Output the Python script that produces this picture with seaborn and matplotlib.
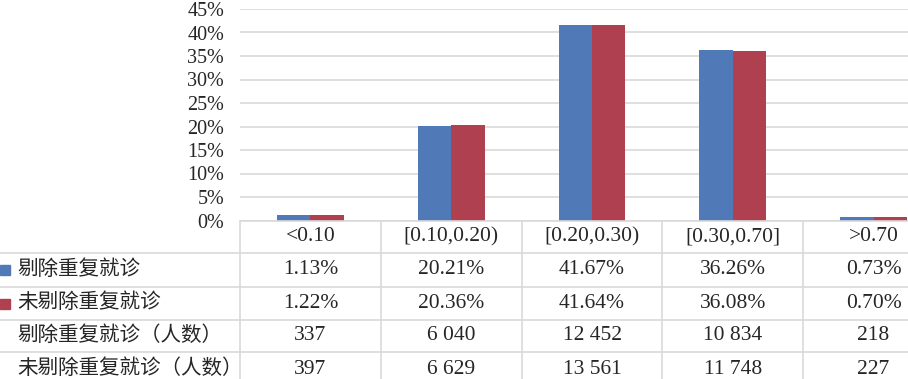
import matplotlib
matplotlib.use("Agg")
import matplotlib.pyplot as plt
import matplotlib.transforms as mtrans
import seaborn as sns
import pandas as pd

categories = ["<0.10", "[0.10,0.20)", "[0.20,0.30)", "[0.30,0.70]", ">0.70"]
series_names = ["剔除重复就诊", "未剔除重复就诊"]
pct_removed = [1.13, 20.21, 41.67, 36.26, 0.73]
pct_kept = [1.22, 20.36, 41.64, 36.08, 0.70]
count_label_removed = "剔除重复就诊（人数）"
count_label_kept = "未剔除重复就诊（人数）"
count_removed = ["337", "6 040", "12 452", "10 834", "218"]
count_kept = ["397", "6 629", "13 561", "11 748", "227"]
yticks = [0, 5, 10, 15, 20, 25, 30, 35, 40, 45]

sns.set_style("white")
plt.rcParams["font.family"] = ["Liberation Serif", "Noto Sans CJK SC", "DejaVu Sans"]

BLUE = "#4F79B7"
RED = "#AF404F"
GRID = "#D9D9D9"
W, H = 908, 379

df = pd.DataFrame({
    "cat": categories * 2,
    "series": [series_names[0]] * 5 + [series_names[1]] * 5,
    "val": pct_removed + pct_kept,
})

fig = plt.figure(figsize=(W / 100, H / 100), dpi=100)
ax_l, ax_r = 240, 944
ax_top, ax_bot = 9, 220.5
ax = fig.add_axes([ax_l / W, 1 - ax_bot / H, (ax_r - ax_l) / W, (ax_bot - ax_top) / H])

sns.barplot(data=df, x="cat", y="val", hue="series", order=categories,
            hue_order=series_names, palette=[BLUE, RED], width=0.475, gap=0,
            saturation=1, ax=ax, legend=False, linewidth=0)

ax.set_xlim(-0.5, 4.5)
ax.set_ylim(0, 45)
ax.set_yticks(yticks)
ax.set_yticklabels([f"{v}%" for v in yticks], fontsize=14.5)
ax.tick_params(axis="y", length=0, pad=11.5)
ax.tick_params(axis="x", length=0, labelbottom=False)
ax.set_xlabel("")
ax.set_ylabel("")
ax.grid(axis="y", color=GRID, linewidth=1.2)
ax.set_axisbelow(True)
for s in ax.spines.values():
    s.set_visible(False)

# table
def fy(ypix):
    return 1 - ypix / H

def fx(xpix):
    return xpix / W

tr = mtrans.blended_transform_factory(ax.transData, fig.transFigure)
lw = 1.2
row_edges = [220.5, 253, 287, 320, 352, 386]
fig.add_artist(plt.Line2D([fx(ax_l), 1], [fy(row_edges[0])] * 2, color=GRID, lw=lw))
for ye in row_edges[1:-1]:
    fig.add_artist(plt.Line2D([0, 1], [fy(ye)] * 2, color=GRID, lw=lw))
for i in range(len(categories) + 1):
    fig.add_artist(plt.Line2D([i - 0.5, i - 0.5], [fy(row_edges[0]), fy(row_edges[-1])],
                              color=GRID, lw=lw, transform=tr))

fs = 15.5
centers = [(row_edges[k] + row_edges[k + 1]) / 2 for k in range(len(row_edges) - 1)]
rows = [
    categories,
    [f"{v:.2f}%" for v in pct_removed],
    [f"{v:.2f}%" for v in pct_kept],
    count_removed,
    count_kept,
]
for r, vals in enumerate(rows):
    for i, v in enumerate(vals):
        fig.text(i, fy(centers[r]), v, transform=tr, ha="center", va="center", fontsize=fs)

labels = [series_names[0], series_names[1], count_label_removed, count_label_kept]
for k, lab in enumerate(labels):
    fig.text(fx(17), fy(centers[k + 1]), lab, ha="left", va="center", fontsize=14.8)

for k, c in enumerate([BLUE, RED]):
    cy = centers[k + 1]
    fig.add_artist(plt.Rectangle((fx(0), fy(cy + 5)), 10 / W, 10 / H, color=c,
                                 transform=fig.transFigure))

fig.savefig("out.png", dpi=100)
